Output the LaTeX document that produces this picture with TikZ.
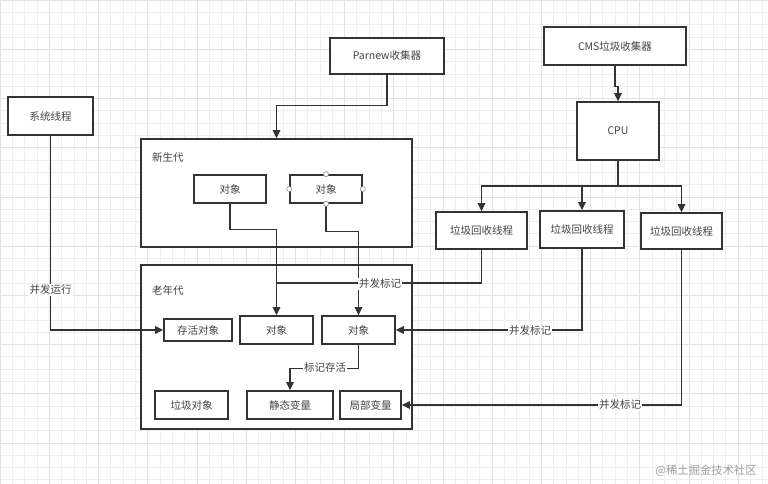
\documentclass[tikz,border=0pt]{standalone}
\usepackage{fontspec}
\setmainfont{Noto Sans CJK SC}
\usetikzlibrary{arrows.meta,calc}
\definecolor{ink}{HTML}{333333}
\definecolor{gridc}{HTML}{EEEEEE}
\definecolor{gridd}{HTML}{E2E2E2}
\definecolor{txt}{HTML}{444444}
\definecolor{cpt}{HTML}{A08888}
\tikzset{
  box/.style={draw=ink, line width=1.6pt, fill=white, inner sep=0pt, font=\fontsize{10.5}{12}\selectfont, text=txt},
  cont/.style={draw=ink, line width=1.6pt, fill=white, inner sep=0pt},
  conn/.style={draw=ink, line width=1.3pt},
  arr/.style={conn, -{Triangle[length=8pt,width=7.5pt]}},
  lbl/.style={fill=white, inner sep=1pt, font=\fontsize{10.5}{12}\selectfont, text=txt},
  ttl/.style={inner sep=0pt, font=\fontsize{10.5}{12}\selectfont, text=txt, anchor=west},
  cpoint/.style={circle, draw=cpt, fill=white, line width=0.6pt, inner sep=0pt, minimum size=5pt},
}
\begin{document}
\begin{tikzpicture}[x=1pt,y=-1pt]
\useasboundingbox (0,0) rectangle (768,484);
\fill[white] (0,0) rectangle (768,484);
% grid
\foreach \i in {0,...,63} {
  \draw[gridc, line width=0.5pt] ({\i*12.3},0) -- ({\i*12.3},484);
}
\foreach \i in {0,...,40} {
  \draw[gridc, line width=0.5pt] (0,{\i*12.3}) -- (768,{\i*12.3});
}
\foreach \i in {0,...,15} {
  \draw[gridd, line width=0.6pt] ({\i*49.2},0) -- ({\i*49.2},484);
}
\foreach \i in {0,...,10} {
  \draw[gridd, line width=0.6pt] (0,{\i*49.2}) -- (768,{\i*49.2});
}

% containers
\node[cont, minimum width=271pt, minimum height=108pt] (young) at (276.5,193) {};
\node[cont, minimum width=271pt, minimum height=164pt] (old) at (276.5,347) {};
\node[ttl] (youngt) at (152,157) {新生代};
\node[ttl] (oldt) at (152,290) {老年代};

% top boxes
\node[box, minimum width=85pt, minimum height=38pt] (sys) at (50.5,116) {系统线程};
\node[box, minimum width=114pt, minimum height=36pt] (parnew) at (387,56) {Parnew收集器};
\node[box, minimum width=142pt, minimum height=38pt] (cms) at (615,46) {CMS垃圾收集器};
\node[box, minimum width=82pt, minimum height=58pt] (cpu) at (618,131) {CPU};

% gc threads
\node[box, minimum width=91pt, minimum height=37pt] (g1) at (481.5,230.5) {垃圾回收线程};
\node[box, minimum width=84pt, minimum height=37pt] (g2) at (582,229.5) {垃圾回收线程};
\node[box, minimum width=81pt, minimum height=36pt] (g3) at (681.5,231) {垃圾回收线程};

% young objects
\node[box, minimum width=72pt, minimum height=28pt] (y1) at (230,189) {对象};
\node[box, minimum width=72pt, minimum height=28pt] (y2) at (326,189) {对象};

% old objects
\node[box, minimum width=68pt, minimum height=22pt] (alive) at (198,330) {存活对象};
\node[box, minimum width=73pt, minimum height=28pt] (o1) at (276.5,330) {对象};
\node[box, minimum width=73pt, minimum height=28pt] (o2) at (358.5,330) {对象};
\node[box, minimum width=73pt, minimum height=28pt] (garb) at (191.5,405) {垃圾对象};
\node[box, minimum width=86pt, minimum height=28pt] (stat) at (290,405) {静态变量};
\node[box, minimum width=61pt, minimum height=28pt] (loc) at (370.5,405) {局部变量};

% coordinates
\coordinate (bus) at (618,186);
\coordinate (j1) at (276.5,283);

% connectors
\draw[arr] (sys.south) |- (alive.west);
\node[lbl] (l0) at (50.5,290) {并发运行};

\draw[arr] (parnew.south) |- ($(young.north)+(0,-33)$) -- (young.north);
\draw[arr] (cms.south) -- ++(0,21) -| (cpu.north);

\draw[conn] (cpu.south) -- (bus);
\draw[arr] (bus) -| (g1.north);
\draw[arr] (bus) -| (g2.north);
\draw[arr] (bus) -| (g3.north);

\draw[arr] (y1.south) -- ++(0,26) -| (o1.north);
\draw[arr] (y2.south) -- ++(0,28) -| (o2.north);

\draw[conn] (g1.south) |- (j1);
\node[lbl] (l1) at (380,284) {并发标记};

\draw[arr] (g2.south) |- (o2.east);
\node[lbl] (l2) at (530,331) {并发标记};

\draw[arr] (g3.south) |- (loc.east);
\node[lbl] (l3) at (620,405) {并发标记};

\draw[arr] (o2.south) -- ++(0,24) -| (stat.north);
\node[lbl] (l4) at (325,368) {标记存活};

% connection points on young object 2
\node[cpoint] (c1) at (y2.north) {};
\node[cpoint] (c2) at (y2.south) {};
\node[cpoint] (c3) at (y2.west) {};
\node[cpoint] (c4) at (y2.east) {};

% watermark
\node[inner sep=0pt, font=\fontsize{11.3}{13}\selectfont, text=black!38] (wm) at (706,471) {@稀土掘金技术社区};
\end{tikzpicture}
\end{document}
